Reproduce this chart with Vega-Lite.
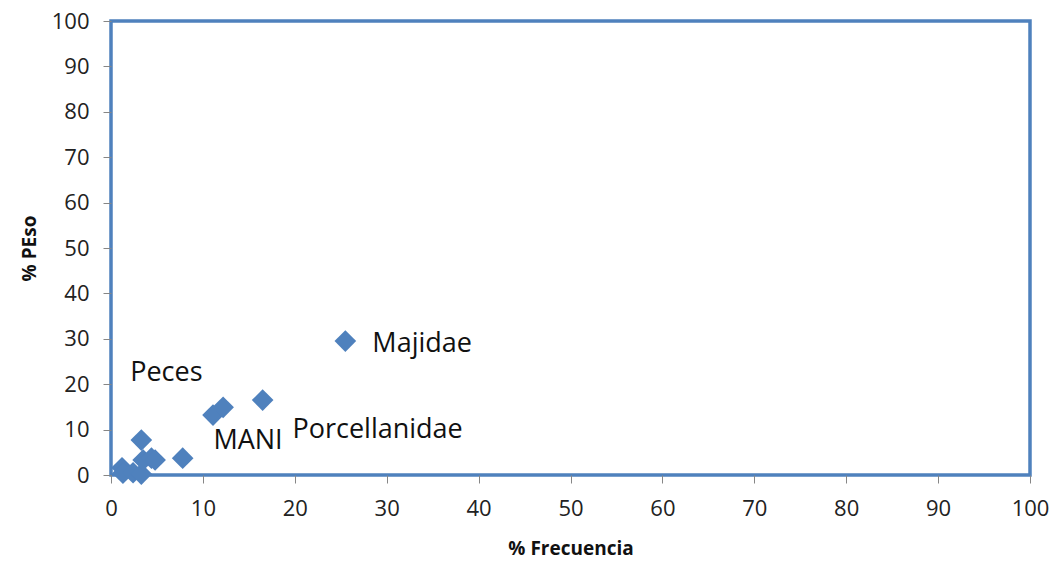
{
  "$schema": "https://vega.github.io/schema/vega-lite/v6.json",
  "autosize": {"type": "none"},
  "width": 919,
  "height": 454,
  "padding": {"left": 111, "top": 21, "right": 22, "bottom": 100},
  "background": "white",
  "config": {
    "view": {"stroke": "#4F81BD", "strokeWidth": 3.5},
    "axis": {"grid": false, "domain": false, "tickColor": "#868686", "tickSize": 8, "labelColor": "#222222", "titleColor": "#111111"}
  },
  "data": {
    "values": [
      {"frecuencia": 1.2, "peso": 1.6, "grupo": ""},
      {"frecuencia": 1.3, "peso": 0.4, "grupo": ""},
      {"frecuencia": 2.4, "peso": 0.5, "grupo": ""},
      {"frecuencia": 3.3, "peso": 0.2, "grupo": ""},
      {"frecuencia": 3.3, "peso": 7.7, "grupo": "Peces"},
      {"frecuencia": 3.5, "peso": 3.3, "grupo": ""},
      {"frecuencia": 4.4, "peso": 3.7, "grupo": ""},
      {"frecuencia": 4.8, "peso": 3.3, "grupo": ""},
      {"frecuencia": 7.8, "peso": 3.7, "grupo": ""},
      {"frecuencia": 11.1, "peso": 13.2, "grupo": "MANI"},
      {"frecuencia": 12.2, "peso": 14.9, "grupo": ""},
      {"frecuencia": 16.5, "peso": 16.5, "grupo": "Porcellanidae"},
      {"frecuencia": 25.5, "peso": 29.5, "grupo": "Majidae"}
    ]
  },
  "encoding": {
    "x": {
      "field": "frecuencia", "type": "quantitative",
      "scale": {"domain": [0, 100], "nice": false, "zero": true},
      "axis": {"values": [0,10,20,30,40,50,60,70,80,90,100], "title": "% Frecuencia",
        "labelFont": "Open Sans", "labelFontSize": 22, "labelPadding": 15,
        "titleFont": "Open Sans", "titleFontSize": 19, "titleFontWeight": "bold", "titlePadding": 20, "labelFlush": false}
    },
    "y": {
      "field": "peso", "type": "quantitative",
      "scale": {"domain": [0, 100], "nice": false},
      "axis": {"values": [0,10,20,30,40,50,60,70,80,90,100], "title": "% PEso",
        "labelFont": "Open Sans", "labelFontSize": 22, "labelPadding": 14,
        "titleFont": "Open Sans", "titleFontSize": 19, "titleFontWeight": "bold", "titlePadding": 12, "labelFlush": false}
    }
  },
  "layer": [
    {"mark": {"type": "point", "shape": "diamond", "filled": true, "color": "#4F81BD", "opacity": 1, "size": 470, "clip": false}},
    {"transform": [{"filter": "datum.grupo == 'Majidae'"}],
     "mark": {"type": "text", "font": "Open Sans", "fontSize": 27, "align": "left", "baseline": "middle", "dx": 27, "dy": 3, "color": "#111111"},
     "encoding": {"text": {"field": "grupo"}}},
    {"transform": [{"filter": "datum.grupo == 'Peces'"}],
     "mark": {"type": "text", "font": "Open Sans", "fontSize": 27, "align": "center", "baseline": "middle", "dx": 25, "dy": -67, "color": "#111111"},
     "encoding": {"text": {"field": "grupo"}}},
    {"transform": [{"filter": "datum.grupo == 'MANI'"}],
     "mark": {"type": "text", "font": "Open Sans", "fontSize": 27, "align": "center", "baseline": "middle", "dx": 35, "dy": 26, "color": "#111111"},
     "encoding": {"text": {"field": "grupo"}}},
    {"transform": [{"filter": "datum.grupo == 'Porcellanidae'"}],
     "mark": {"type": "text", "font": "Open Sans", "fontSize": 27, "align": "center", "baseline": "middle", "dx": 115, "dy": 30, "color": "#111111"},
     "encoding": {"text": {"field": "grupo"}}}
  ]
}
